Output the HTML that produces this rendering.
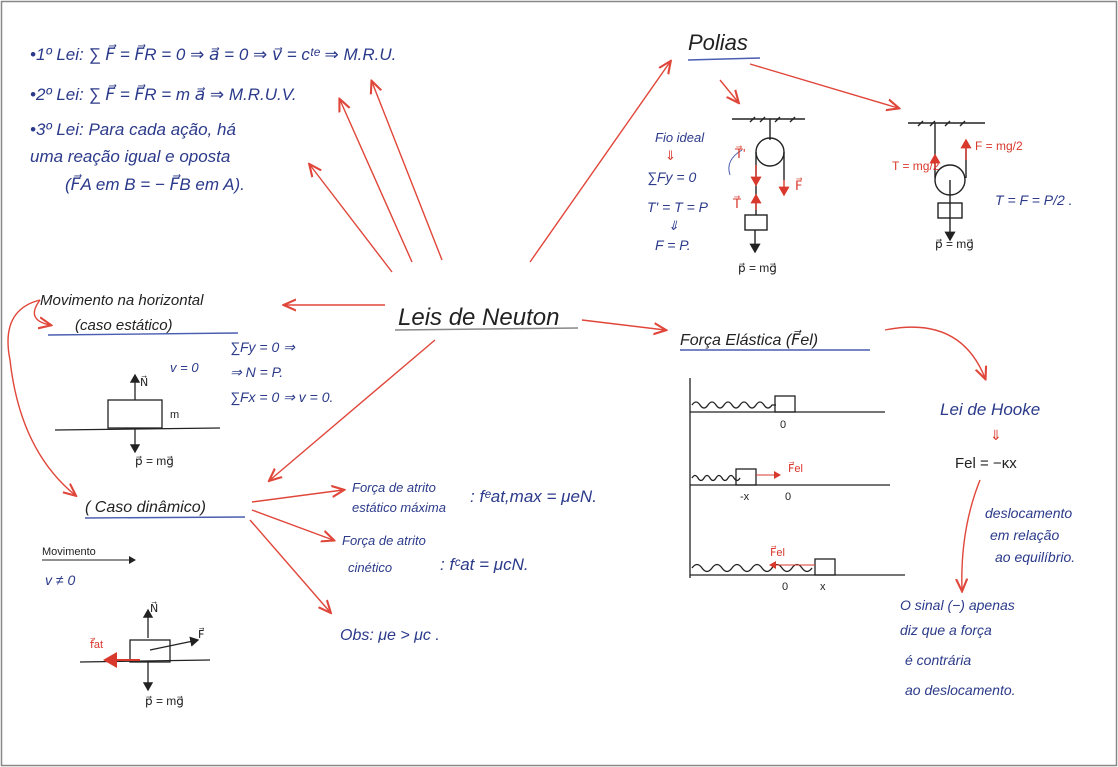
<!DOCTYPE html>
<html><head><meta charset="utf-8"><style>
body{margin:0;background:#fff;}
svg{display:block;}
text{font-family:"Liberation Sans",sans-serif;}
.b{fill:#2b3a8a;font-style:italic;}
.k{fill:#222;}
.r{fill:#d9382c;}
</style></head><body>
<svg width="1118" height="767" viewBox="0 0 1118 767" xmlns="http://www.w3.org/2000/svg">
<defs><marker id="a" markerWidth="10" markerHeight="10" refX="8" refY="5" orient="auto"><path d="M0,1 L9,5 L0,9" fill="none" stroke="#e0463a" stroke-width="1.5"/></marker>
<marker id="k" markerWidth="8" markerHeight="8" refX="6" refY="4" orient="auto"><path d="M0,0 L7,4 L0,8z" fill="#222"/></marker>
<marker id="rk" markerWidth="8" markerHeight="8" refX="6" refY="4" orient="auto"><path d="M0,0 L7,4 L0,8z" fill="#d9382c"/></marker></defs>
<rect x="1.5" y="1.5" width="1115" height="764" fill="#fff" stroke="#888" stroke-width="1.5"/>
<g stroke="#e0463a" stroke-width="1.4" fill="none" marker-end="url(#a)">
<line x1="392" y1="272" x2="310" y2="165"/>
<line x1="412" y1="262" x2="340" y2="100"/>
<line x1="442" y1="260" x2="372" y2="82"/>
<line x1="530" y1="262" x2="670" y2="62"/>
<line x1="385" y1="305" x2="285" y2="305"/>
<line x1="582" y1="320" x2="665" y2="330"/>
<line x1="435" y1="340" x2="270" y2="480"/>
<line x1="252" y1="502" x2="343" y2="490"/>
<line x1="252" y1="510" x2="333" y2="540"/>
<line x1="250" y1="520" x2="330" y2="612"/>
<line x1="720" y1="80" x2="738" y2="102"/>
<line x1="750" y1="64" x2="898" y2="108"/>
<path d="M885 330 Q960 315 985 378"/>
<path d="M980 480 Q960 530 962 590"/>
<path d="M40 300 Q0 310 10 360 Q20 450 75 495"/>
<path d="M40 300 Q25 320 50 325"/>
</g>
<text x="398" y="325" class="k" font-size="24" font-style="italic">Leis de Neuton</text>
<line x1="395" y1="330" x2="578" y2="328" stroke="#888" stroke-width="1.5"/>
<text x="30" y="60" class="b" font-size="17">•1º Lei: ∑ F⃗ = F⃗R = 0 ⇒ a⃗ = 0 ⇒ v⃗ = cᵗᵉ ⇒ M.R.U.</text>
<text x="30" y="100" class="b" font-size="17">•2º Lei: ∑ F⃗ = F⃗R = m a⃗ ⇒ M.R.U.V.</text>
<text x="30" y="135" class="b" font-size="17">•3º Lei: Para cada ação, há</text>
<text x="30" y="162" class="b" font-size="17">uma reação igual e oposta</text>
<text x="65" y="190" class="b" font-size="17">(F⃗A em B = − F⃗B em A).</text>
<text x="688" y="50" class="k" font-size="22" font-style="italic">Polias</text>
<line x1="688" y1="60" x2="760" y2="58" stroke="#4a5db0" stroke-width="1.5"/>
<g stroke="#222" stroke-width="1.4" fill="none">
<line x1="732" y1="119" x2="805" y2="119"/><line x1="770" y1="119" x2="770" y2="140"/>
<circle cx="770" cy="152" r="14"/><line x1="756" y1="152" x2="756" y2="215"/><line x1="784" y1="152" x2="784" y2="180"/>
<rect x="745" y="215" width="22" height="15"/><line x1="755" y1="230" x2="755" y2="252" marker-end="url(#k)"/>
<line x1="908" y1="123" x2="985" y2="123"/><line x1="935" y1="123" x2="935" y2="178"/><line x1="966" y1="145" x2="966" y2="178"/>
<circle cx="950" cy="180" r="15"/><rect x="938" y="203" width="24" height="15"/><line x1="950" y1="180" x2="950" y2="240" marker-end="url(#k)"/>
<path d="M750 122 l5 -5 M760 122 l5 -5 M775 122 l5 -5 M790 122 l5 -5 M918 126 l5 -5 M930 126 l5 -5 M945 126 l5 -5 M960 126 l5 -5"/>
</g>
<g stroke="#d9382c" stroke-width="1.4" marker-end="url(#rk)">
<line x1="756" y1="165" x2="756" y2="185"/><line x1="784" y1="180" x2="784" y2="195"/><line x1="756" y1="210" x2="756" y2="195"/>
<line x1="966" y1="160" x2="966" y2="140"/><line x1="935" y1="168" x2="935" y2="155"/>
</g>
<path d="M730 175 Q725 160 742 150" stroke="#4a5db0" fill="none"/>
<text x="655" y="142" class="b" font-size="13">Fio ideal</text>
<text x="665" y="160" class="r" font-size="13">⇓</text>
<text x="647" y="182" class="b" font-size="14">∑Fy = 0</text>
<text x="647" y="212" class="b" font-size="14">T' = T = P</text>
<text x="668" y="230" class="b" font-size="13">⇓</text>
<text x="655" y="250" class="b" font-size="14">F = P.</text>
<text x="735" y="158" class="r" font-size="13">T⃗'</text><text x="733" y="208" class="r" font-size="13">T⃗</text><text x="795" y="190" class="r" font-size="13">F⃗</text>
<text x="738" y="272" class="k" font-size="12">p⃗ = mg⃗</text>
<text x="892" y="170" class="r" font-size="12">T = mg/2</text>
<text x="975" y="150" class="r" font-size="12">F = mg/2</text>
<text x="995" y="205" class="b" font-size="14">T = F = P/2 .</text>
<text x="935" y="248" class="k" font-size="12">p⃗ = mg⃗</text>
<text x="680" y="345" class="k" font-size="16" font-style="italic">Força Elástica (F⃗el)</text>
<line x1="680" y1="350" x2="870" y2="350" stroke="#4a5db0" stroke-width="1.4"/>
<g stroke="#222" stroke-width="1.3" fill="none">
<line x1="690" y1="378" x2="690" y2="578"/>
<line x1="690" y1="412" x2="885" y2="412"/><path d="M692 405 q4 -6 8 0 t8 0 t8 0 t8 0 t8 0 t8 0 t8 0 t8 0 t8 0 t8 0 l4 0"/><rect x="775" y="396" width="20" height="16"/>
<line x1="690" y1="485" x2="890" y2="485"/><path d="M692 478 q3 -5 6 0 t6 0 t6 0 t6 0 t6 0 t6 0 t6 0 t6 0"/><rect x="736" y="469" width="20" height="16"/>
<line x1="690" y1="575" x2="905" y2="575"/><path d="M692 568 q5 -7 10 0 t10 0 t10 0 t10 0 t10 0 t10 0 t10 0 t10 0 t10 0 t10 0 t10 0 t10 0"/><rect x="815" y="559" width="20" height="16"/>
</g>
<line x1="756" y1="475" x2="780" y2="475" stroke="#d9382c" marker-end="url(#rk)"/>
<line x1="815" y1="565" x2="770" y2="565" stroke="#d9382c" marker-end="url(#rk)"/>
<text x="780" y="428" class="k" font-size="11">0</text><text x="740" y="500" class="k" font-size="11">-x</text><text x="785" y="500" class="k" font-size="11">0</text>
<text x="782" y="590" class="k" font-size="11">0</text><text x="820" y="590" class="k" font-size="11">x</text>
<text x="788" y="472" class="r" font-size="11">F⃗el</text><text x="770" y="556" class="r" font-size="11">F⃗el</text>
<text x="940" y="415" class="b" font-size="17">Lei de Hooke</text>
<text x="990" y="440" class="r" font-size="14">⇓</text>
<text x="955" y="468" class="k" font-size="15">Fel = −κx</text>
<text x="985" y="518" class="b" font-size="14">deslocamento</text>
<text x="990" y="540" class="b" font-size="14">em relação</text>
<text x="995" y="562" class="b" font-size="14">ao equilíbrio.</text>
<text x="900" y="610" class="b" font-size="14">O sinal (−) apenas</text>
<text x="900" y="635" class="b" font-size="14">diz que a força</text>
<text x="905" y="665" class="b" font-size="14">é contrária</text>
<text x="905" y="695" class="b" font-size="14">ao deslocamento.</text>
<text x="40" y="305" class="k" font-size="15" font-style="italic">Movimento na horizontal</text>
<text x="75" y="330" class="k" font-size="15" font-style="italic">(caso estático)</text>
<line x1="48" y1="335" x2="238" y2="333" stroke="#4a5db0" stroke-width="1.4"/>
<text x="230" y="352" class="b" font-size="14">∑Fy = 0 ⇒</text>
<text x="230" y="377" class="b" font-size="14">⇒ N = P.</text>
<text x="230" y="402" class="b" font-size="14">∑Fx = 0 ⇒ v = 0.</text>
<text x="170" y="372" class="b" font-size="13">v = 0</text>
<g stroke="#222" stroke-width="1.3" fill="none">
<line x1="55" y1="430" x2="220" y2="428"/><rect x="108" y="400" width="54" height="28"/>
<line x1="135" y1="400" x2="135" y2="375" marker-end="url(#k)"/><line x1="135" y1="428" x2="135" y2="452" marker-end="url(#k)"/>
<rect x="130" y="640" width="40" height="22"/>
</g>
<text x="140" y="386" class="k" font-size="11">N⃗</text><text x="170" y="418" class="k" font-size="11">m</text>
<text x="135" y="465" class="k" font-size="12">p⃗ = mg⃗</text>
<text x="85" y="512" class="k" font-size="16" font-style="italic">( Caso dinâmico)</text>
<line x1="85" y1="518" x2="245" y2="517" stroke="#4a5db0" stroke-width="1.4"/>
<text x="42" y="555" class="k" font-size="11">Movimento</text>
<line x1="42" y1="560" x2="135" y2="560" stroke="#222" marker-end="url(#k)"/>
<text x="45" y="585" class="b" font-size="14">v ≠ 0</text>
<g stroke="#222" stroke-width="1.3" fill="none">
<line x1="80" y1="662" x2="210" y2="660"/>
<line x1="148" y1="638" x2="148" y2="610" marker-end="url(#k)"/><line x1="150" y1="650" x2="198" y2="640" marker-end="url(#k)"/><line x1="148" y1="662" x2="148" y2="690" marker-end="url(#k)"/>
</g>
<line x1="140" y1="660" x2="105" y2="660" stroke="#d9382c" stroke-width="2" marker-end="url(#rk)"/>
<text x="150" y="612" class="k" font-size="11">N⃗</text><text x="198" y="638" class="k" font-size="11">F⃗</text>
<text x="90" y="648" class="r" font-size="11">f⃗at</text><text x="145" y="705" class="k" font-size="12">p⃗ = mg⃗</text>
<text x="352" y="492" class="b" font-size="13">Força de atrito</text>
<text x="352" y="512" class="b" font-size="13">estático máxima</text>
<text x="470" y="502" class="b" font-size="17">: fᵉat,max = μeN.</text>
<text x="342" y="545" class="b" font-size="13">Força de atrito</text>
<text x="348" y="572" class="b" font-size="13">cinético</text>
<text x="440" y="570" class="b" font-size="17">: fᶜat = μcN.</text>
<text x="340" y="640" class="b" font-size="16">Obs: μe &gt; μc .</text>
</svg>
</body></html>
